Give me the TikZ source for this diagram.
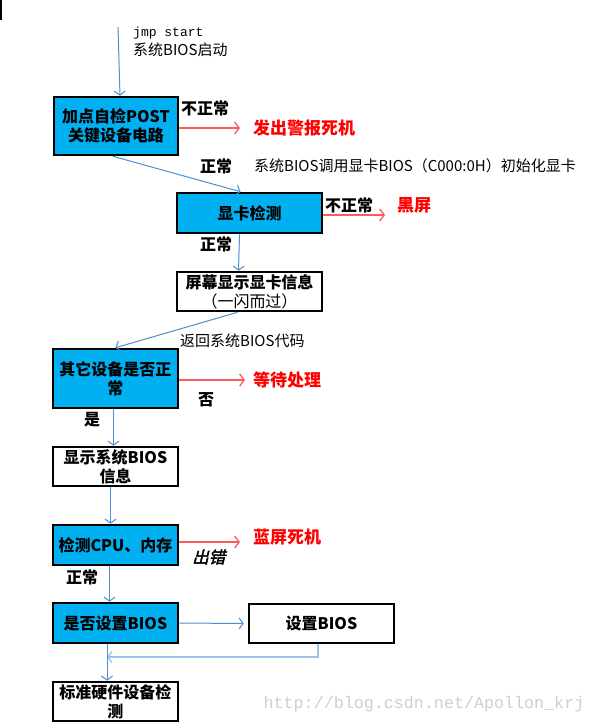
\documentclass[tikz,border=0pt]{standalone}
\usepackage{fontspec}
\setmainfont{Noto Sans CJK SC}
\newfontfamily\monof{Liberation Mono}
\newfontfamily\slantf{Noto Sans CJK SC}[FakeSlant=0.25,FakeBold=2]
\usetikzlibrary{arrows.meta}
\definecolor{boxblue}{HTML}{00B0F0}
\definecolor{linkblue}{HTML}{4A90D2}
\definecolor{paleblue}{HTML}{9DC3E6}
\definecolor{arrowred}{HTML}{FF5A5A}
\definecolor{textred}{HTML}{FF0000}
\definecolor{wmgray}{HTML}{CFCFCF}
\begin{document}
\begin{tikzpicture}[x=1pt,y=-1pt,
  boxbase/.style={draw=black, line width=2.6pt, inner sep=0pt, align=center,
    font=\fontsize{16}{19}\selectfont\bfseries},
  bluebox/.style={boxbase, fill=boxblue},
  whitebox/.style={boxbase, fill=white},
  conn/.style={draw=linkblue, line width=1pt, -{Straight Barb[length=4pt,width=11pt]}},
  bad/.style={draw=arrowred, line width=1.3pt, -{Straight Barb[length=4.5pt,width=12pt]}},
  lbl/.style={anchor=west, inner sep=0pt, font=\fontsize{16}{16}\selectfont\bfseries},
  note/.style={anchor=west, inner sep=0pt, font=\fontsize{15}{15}\selectfont},
  warn/.style={anchor=west, inner sep=0pt, text=textred, font=\fontsize{17}{17}\selectfont\bfseries}]
\useasboundingbox (0,0) rectangle (596,724);
\fill[white] (0,0) rectangle (596,724);
\draw[line width=2pt] (1,0) -- (1,20);

% boxes
\node[bluebox, minimum width=124, minimum height=58] (b1) at (116,126) {加点自检POST\\关键设备电路};
\node[bluebox, minimum width=145, minimum height=40] (b2) at (249.5,213) {显卡检测};
\node[whitebox, minimum width=145, minimum height=39] (b3) at (249.5,291.5) {屏幕显示显卡信息\\{\mdseries （一闪而过）}};
\node[bluebox, minimum width=125, minimum height=59] (b4) at (115.5,378.5) {其它设备是否正\\常};
\node[whitebox, minimum width=125, minimum height=39] (b5) at (115.5,466.5) {显示系统BIOS\\信息};
\node[bluebox, minimum width=125, minimum height=40] (b6) at (115.5,545) {检测CPU、内存};
\node[bluebox, minimum width=125, minimum height=40] (b7) at (115.5,623) {是否设置BIOS};
\node[whitebox, minimum width=145, minimum height=39] (b8) at (321.5,623.5) {设置BIOS};
\node[whitebox, minimum width=125, minimum height=39] (b9) at (115.5,701.5) {标准硬件设备检\\测};

% texts
\node[anchor=west, inner sep=0pt, font=\monof\fontsize{13}{13}\selectfont] (tj) at (133,33) {jmp start};
\node[note] (ts) at (133,50) {系统BIOS启动};
\node[lbl] (n1) at (181,108) {不正常};
\node[warn] (w1) at (253,128) {发出警报死机};
\node[lbl] (o1) at (200,166) {正常};
\node[note] (c1) at (254,166) {系统BIOS调用显卡BIOS（C000:0H）初始化显卡};
\node[lbl] (n2) at (325,205) {不正常};
\node[warn] (w2) at (397,205) {黑屏};
\node[lbl] (o2) at (200,244) {正常};
\node[note] (c2) at (180,341) {返回系统BIOS代码};
\node[warn] (w3) at (253,380) {等待处理};
\node[lbl] (f4) at (198,400) {否};
\node[lbl] (y4) at (84,420) {是};
\node[warn] (w4) at (253,537) {蓝屏死机};
\node[anchor=west, inner sep=0pt, font=\slantf\fontsize{16.5}{16.5}\selectfont] (e6) at (192,557) {出错};
\node[lbl] (o6) at (66,577) {正常};
\node[text=wmgray, inner sep=0pt, font=\monof\fontsize{16.7}{16.7}\selectfont] (wm) at (424,704) {http://blog.csdn.net/Apollon\_krj};

% connectors
\coordinate (s) at (118,27);
\draw[conn] (s) -- ([xshift=4pt]b1.north);
\draw[conn] ([xshift=-3pt]b1.south) -- ([xshift=-9pt]b2.north);
\coordinate (r1) at (240,128);
\draw[bad] ([yshift=-2pt]b1.east) -- (r1);
\coordinate (r2) at (385,215);
\draw[bad] ([yshift=-2pt]b2.east) -- (r2);
\draw[conn] ([xshift=-10pt]b2.south) -- ([xshift=-11pt]b3.north);
\draw[conn] ([xshift=-12pt]b3.south) -- (b4.north);
\coordinate (r3) at (245,380);
\draw[bad] ([yshift=-1.5pt]b4.east) -- (r3);
\draw[conn] ([xshift=-2pt]b4.south) -- ([xshift=-2pt]b5.north);
\draw[conn] ([xshift=-5pt]b5.south) -- ([xshift=-5pt]b6.north);
\coordinate (r4) at (240,542);
\draw[bad] ([yshift=3pt]b6.east) -- (r4);
\draw[conn] ([xshift=-6pt]b6.south) -- ([xshift=-6pt]b7.north);
\draw[conn] (b7.east) -- ([xshift=-4pt]b8.west);
\coordinate (m) at (107,657);
\draw[conn, draw=paleblue, line width=1.3pt] ([xshift=-3.5pt]b8.south) |- (m);
\draw[conn] ([xshift=-8.5pt]b7.south) -- ([xshift=-8.5pt]b9.north);
\end{tikzpicture}
\end{document}
